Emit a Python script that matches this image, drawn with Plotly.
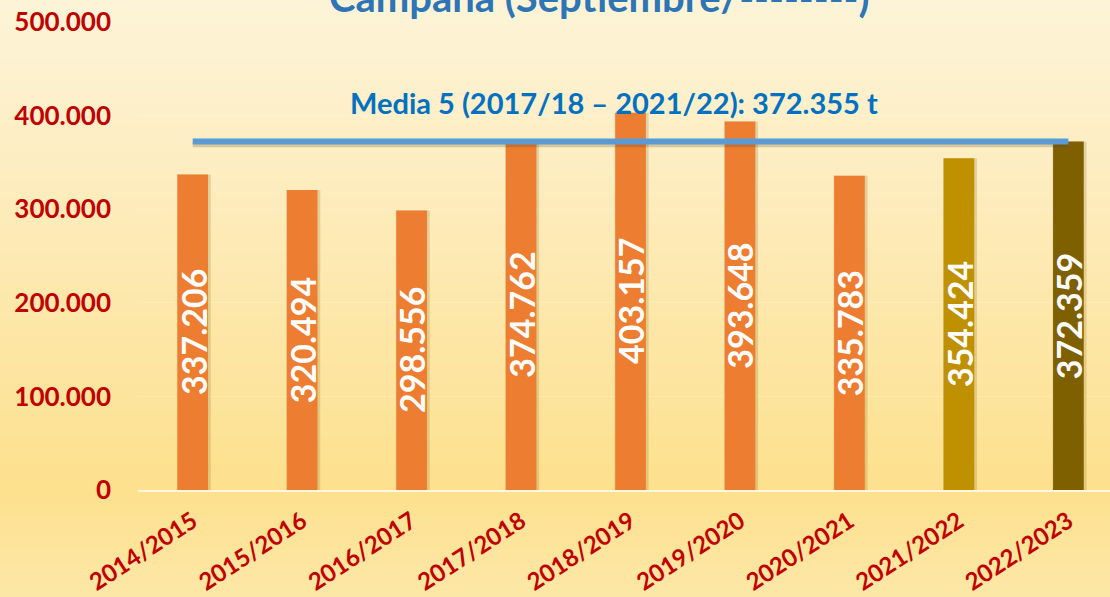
import numpy as np
import plotly.graph_objects as go

# ---- data ----
campaigns = ["2014/2015", "2015/2016", "2016/2017", "2017/2018", "2018/2019",
             "2019/2020", "2020/2021", "2021/2022", "2022/2023"]
production = [337206, 320494, 298556, 374762, 403157, 393648, 335783, 354424, 372359]
mean_5 = 372355
mean_label = "Media 5 (2017/18 \u2013 2021/22): 372.355 t"
title_text = "Campaña (Septiembre/--------)"
y_ticks = [0, 100000, 200000, 300000, 400000, 500000]
y_tick_labels = ["0", "100.000", "200.000", "300.000", "400.000", "500.000"]

bar_colors = ["#ED7D31"] * 7 + ["#BF9000", "#7F6000"]
FONT = "Lato"
RED = "#C00000"


def fmt(v):
    return f"{v:,}".replace(",", ".")


fig = go.Figure()

# soft shadow behind bars
fig.add_trace(go.Bar(
    x=campaigns, y=production, width=0.31, offset=-0.145,
    marker=dict(color="rgba(110,80,0,0.18)", line=dict(width=0)),
    hoverinfo="skip", showlegend=False,
))
fig.add_trace(go.Bar(
    x=campaigns, y=production, width=0.28,
    marker=dict(color=bar_colors, line=dict(width=0)),
    showlegend=False,
))

# mean line (with a faint shadow)
fig.add_trace(go.Scatter(
    x=[campaigns[0], campaigns[-1]], y=[mean_5 - 3000] * 2, mode="lines",
    line=dict(color="rgba(90,60,0,0.22)", width=6), hoverinfo="skip", showlegend=False,
))
fig.add_trace(go.Scatter(
    x=[campaigns[0], campaigns[-1]], y=[mean_5] * 2, mode="lines",
    line=dict(color="#5B9BD5", width=6), showlegend=False,
))

annotations = []
for c, v in zip(campaigns, production):
    annotations.append(dict(
        x=c, y=v / 2, xref="x", yref="y", text=fmt(v), textangle=-90,
        showarrow=False, font=dict(family=FONT, size=34, color="white", weight="bold"),
    ))
annotations.append(dict(
    x=3.85, y=414000, xref="x", yref="y", text=mean_label, showarrow=False,
    font=dict(family=FONT, size=29, color="#0070C0", weight="bold"),
))
annotations.append(dict(
    x=0.475, y=1.054, xref="paper", yref="paper", text=title_text, showarrow=False,
    yanchor="middle", font=dict(family=FONT, size=40, color="#2E75B6", weight="bold"),
))

# background gradient bands (cream at top -> yellow near axis -> lighter bottom)
shapes = []
n = 90
top_px, bot_px, plot_top, plot_bot = 0, 597, 22, 490
stops_px = [0, 150, 490, 597]
stops_rgb = np.array([[254, 245, 217], [253, 238, 196], [253, 225, 142], [253, 232, 168]])
edges = np.linspace(top_px, bot_px, n + 1)
for i in range(n):
    mid = (edges[i] + edges[i + 1]) / 2
    rgb = [int(np.interp(mid, stops_px, stops_rgb[:, k])) for k in range(3)]
    y0 = (plot_bot - edges[i + 1]) / (plot_bot - plot_top)
    y1 = (plot_bot - edges[i]) / (plot_bot - plot_top)
    shapes.append(dict(
        type="rect", xref="paper", yref="paper", x0=-0.2, x1=1.05,
        y0=y0 - 0.002, y1=y1 + 0.002, layer="below", line=dict(width=0),
        fillcolor=f"rgb({rgb[0]},{rgb[1]},{rgb[2]})",
    ))

fig.update_layout(
    width=1110, height=597,
    margin=dict(l=138, r=0, t=22, b=107),
    paper_bgcolor="#FEF0C4", plot_bgcolor="rgba(0,0,0,0)",
    barmode="overlay",
    annotations=annotations, shapes=shapes,
    xaxis=dict(
        range=[-0.5, 8.38], showgrid=False, zeroline=False, automargin=False,
        showline=True, linecolor="rgba(255,250,235,0.85)", linewidth=2,
        tickangle=-33, ticklabelstandoff=6,
        tickfont=dict(family=FONT, size=24, color=RED, weight="bold"),
    ),
    yaxis=dict(
        range=[0, 500000], tickvals=y_ticks, ticktext=y_tick_labels, automargin=False,
        showgrid=True, gridcolor="rgba(255,255,255,0.18)", zeroline=False,
        ticklabelstandoff=26,
        tickfont=dict(family=FONT, size=26, color=RED, weight="bold"),
    ),
)

fig.write_html("out.html", config={"displayModeBar": False},
               post_script="document.body.style.margin='0';")
